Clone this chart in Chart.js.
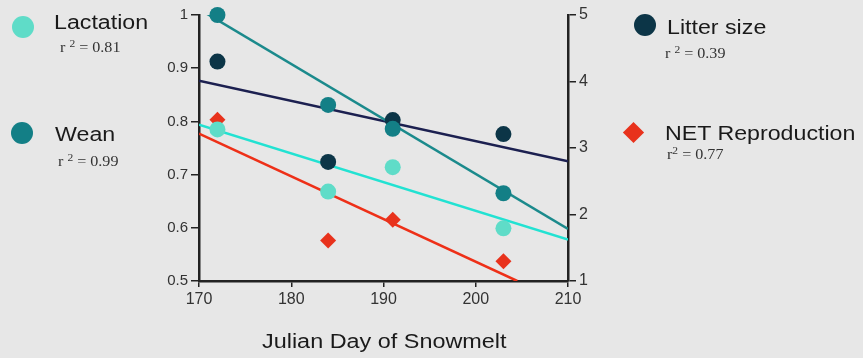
<!DOCTYPE html>
<html>
<head>
<meta charset="utf-8">
<script src="https://cdn.jsdelivr.net/npm/chart.js@4"></script>
<style>
  html, body { margin: 0; padding: 0; }
  body { width: 863px; height: 358px; background: #e7e7e7; position: relative; overflow: hidden; font-family: "Liberation Sans", Arial, sans-serif; }
  #wrap { position: absolute; left: 0; top: 0; width: 863px; height: 358px; }
  .lbl { position: absolute; font-size: 20px; color: #1a1a1a; white-space: nowrap; line-height: 1; transform: scaleX(1.16); transform-origin: left top; }
  .r2 { position: absolute; font-family: "Liberation Serif", "Times New Roman", serif; font-size: 14px; color: #333; white-space: nowrap; line-height: 1; transform: scaleX(1.15); transform-origin: left top; }
  .r2 sup { font-size: 10px; vertical-align: 5px; line-height: 0; }
  .dot { position: absolute; width: 22px; height: 22px; border-radius: 50%; }
  .dia { position: absolute; width: 15px; height: 15px; background: #e8321c; transform: rotate(45deg); }
  #xtitle { position: absolute; left: 262px; top: 330px; font-size: 20px; color: #1a1a1a; transform: scaleX(1.17); transform-origin: left top; }
</style>
</head>
<body>
<div id="wrap"><canvas id="chart" width="863" height="358"></canvas></div>

<div class="dot" style="left:12px; top:16px; background:#5fdcc8;"></div>
<div class="lbl" style="left:54px; top:12px;">Lactation</div>
<div class="r2" style="left:60px; top:41px;">r <sup>2</sup> = 0.81</div>

<div class="dot" style="left:11px; top:122px; background:#137f86;"></div>
<div class="lbl" style="left:55px; top:124px;">Wean</div>
<div class="r2" style="left:58px; top:155px;">r <sup>2</sup> = 0.99</div>

<div class="dot" style="left:634px; top:14px; background:#0c3547;"></div>
<div class="lbl" style="left:667px; top:17px;">Litter size</div>
<div class="r2" style="left:665px; top:47px;">r <sup>2</sup> = 0.39</div>

<div class="dia" style="left:626px; top:125px;"></div>
<div class="lbl" style="left:665px; top:123px;">NET Reproduction</div>
<div class="r2" style="left:667px; top:148px;">r<sup>2</sup> = 0.77</div>

<div id="xtitle">Julian Day of Snowmelt</div>

<script>
// observed values
const days = [172, 184, 191, 203];
const lactation = [0.785, 0.668, 0.714, 0.599];
const wean = [1.0, 0.831, 0.786, 0.665];
const litterSize = [4.30, 2.79, 3.42, 3.21];   // right axis
const netRepro = [0.803, 0.576, 0.615, 0.537];

// regression lines (end points)
const fitDays = [170, 210];
const lactationFit = [0.794, 0.578];
const weanFitDays = [170.7, 210];
const weanFit = [1.004, 0.598];
const litterFit = [4.01, 2.80];
const netFitDays = [170, 204.5];
const netFit = [0.777, 0.5];

const xTicks = [170, 180, 190, 200, 210];
const leftTicks = [0.5, 0.6, 0.7, 0.8, 0.9, 1];
const rightTicks = [1, 2, 3, 4, 5];

function pts(xs, ys) {
    return xs.map((x, i) => ({ x: x, y: ys[i] }));
}

const axisColor = '#222';
const tickFont = { family: '"Liberation Sans", Arial, sans-serif', size: 15 };

const ctx = document.getElementById('chart').getContext('2d');
new Chart(ctx, {
    type: 'scatter',
    data: {
        datasets: [
            { label: 'Wean', data: pts(days, wean), yAxisID: 'y', clip: false, pointRadius: 8, backgroundColor: '#137f86', borderWidth: 0 },
            { label: 'Lactation', data: pts(days, lactation), yAxisID: 'y', clip: false, pointRadius: 8, backgroundColor: '#5fdcc8', borderWidth: 0 },
            { label: 'Litter size', data: pts(days, litterSize), yAxisID: 'y2', clip: false, pointRadius: 8, backgroundColor: '#0c3547', borderWidth: 0 },
            { label: 'NET Reproduction', data: pts(days, netRepro), yAxisID: 'y', clip: false, pointStyle: 'rectRot', pointRadius: 8, backgroundColor: '#e8321c', borderWidth: 0 },
            { type: 'line', data: pts(weanFitDays, weanFit), yAxisID: 'y', borderColor: '#1b8a8c', borderWidth: 2.5, pointRadius: 0, fill: false },
            { type: 'line', data: pts(fitDays, lactationFit), yAxisID: 'y', borderColor: '#22e2d2', borderWidth: 2.5, pointRadius: 0, fill: false },
            { type: 'line', data: pts(fitDays, litterFit), yAxisID: 'y2', borderColor: '#1c2050', borderWidth: 2.5, pointRadius: 0, fill: false },
            { type: 'line', data: pts(netFitDays, netFit), yAxisID: 'y', borderColor: '#ee3018', borderWidth: 2.5, pointRadius: 0, fill: false }
        ]
    },
    options: {
        responsive: false,
        animation: false,
        layout: { padding: { top: 15, left: 0, right: 0, bottom: 0 } },
        plugins: { legend: { display: false }, tooltip: { enabled: false } },
        scales: {
            x: {
                type: 'linear', min: 170, max: 210,
                afterFit: s => { s.height = 77; },
                afterBuildTicks: s => { s.ticks = xTicks.map(v => ({ value: v })); },
                grid: { display: true, drawOnChartArea: false, drawTicks: true, tickLength: 6, color: axisColor, lineWidth: 1.5 },
                border: { display: true, color: axisColor, width: 2.5 },
                ticks: { color: '#333', font: { ...tickFont, size: 16 }, padding: 3 }
            },
            y: {
                position: 'left', min: 0.5, max: 1,
                afterFit: s => { s.width = 199; },
                afterBuildTicks: s => { s.ticks = leftTicks.map(v => ({ value: v })); },
                grid: { display: true, drawOnChartArea: false, drawTicks: true, tickLength: 8, color: axisColor, lineWidth: 1.5 },
                border: { display: true, color: axisColor, width: 2.5 },
                ticks: { color: '#333', font: tickFont, padding: 3, callback: v => (v === 1 ? '1' : v.toFixed(1)) }
            },
            y2: {
                position: 'right', min: 1, max: 5,
                afterFit: s => { s.width = 295; },
                afterBuildTicks: s => { s.ticks = rightTicks.map(v => ({ value: v })); },
                grid: { display: true, drawOnChartArea: false, drawTicks: true, tickLength: 8, color: axisColor, lineWidth: 1.5 },
                border: { display: true, color: axisColor, width: 2.5 },
                ticks: { color: '#333', font: { ...tickFont, size: 16 }, padding: 3 }
            }
        }
    }
});
</script>
</body>
</html>
